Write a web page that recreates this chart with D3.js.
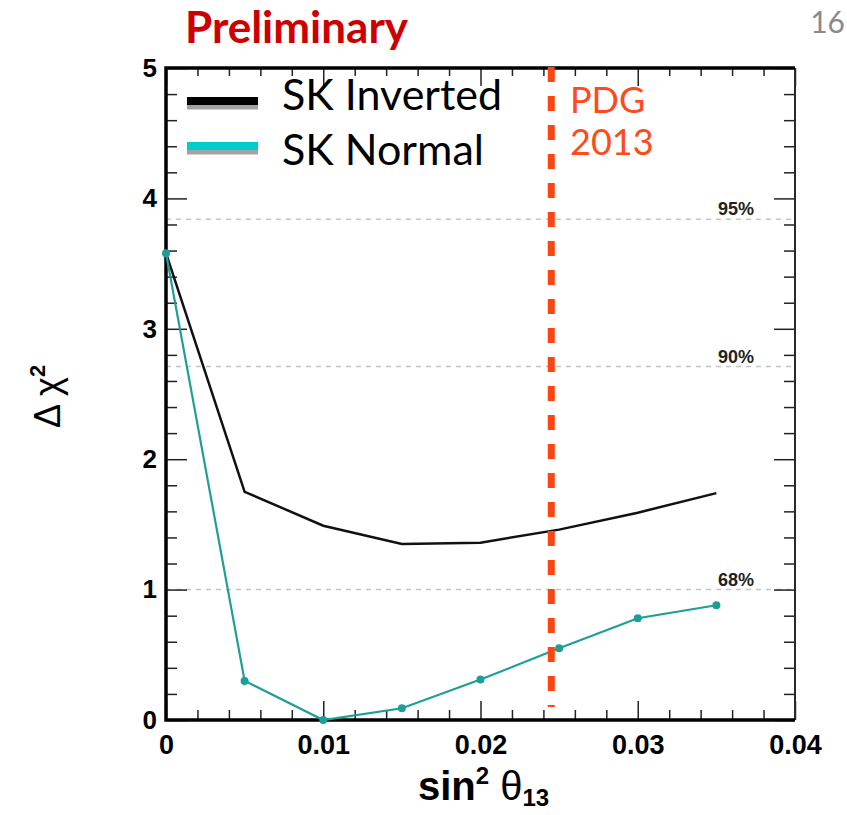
<!DOCTYPE html>
<html>
<head>
<meta charset="utf-8">
<script src="https://cdn.jsdelivr.net/npm/d3@7"></script>
<style>
  body { margin: 0; background: #fff; }
  svg { display: block; }
</style>
</head>
<body>
<div id="chart"></div>
<script>
// data
var sin2 = [0, 0.005, 0.01, 0.015, 0.02, 0.025, 0.03, 0.035];
var skInverted = [3.58, 1.75, 1.49, 1.35, 1.36, 1.46, 1.59, 1.74];
var skNormal = [3.58, 0.30, 0.0, 0.09, 0.31, 0.55, 0.78, 0.88];
var clLevels = [3.84, 2.71, 1.0];
var clLabels = ["95%", "90%", "68%"];
var pdg2013 = 0.0245;
var xTicks = [0, 0.01, 0.02, 0.03, 0.04];
var yTicks = [0, 1, 2, 3, 4, 5];

var W = 847, H = 815;
var frame = {left: 166, right: 795, top: 68, bottom: 720};

var svg = d3.select("#chart")
  .append("svg")
    .attr("width", W)
    .attr("height", H);

var x = d3.scaleLinear().domain([0, 0.04]).range([frame.left, frame.right]);
var y = d3.scaleLinear().domain([0, 5]).range([frame.bottom, frame.top]);

var tickFont = "'Liberation Sans', Arial, sans-serif";

// confidence level lines
svg.selectAll(".cl")
  .data(clLevels)
  .enter()
  .append("line")
    .attr("x1", frame.left).attr("x2", frame.right)
    .attr("y1", d => y(d)).attr("y2", d => y(d))
    .attr("stroke", "#c4c4c4")
    .attr("stroke-width", 1.5)
    .attr("stroke-dasharray", "5,5");

svg.selectAll(".cllab")
  .data(clLevels)
  .enter()
  .append("text")
    .attr("x", 754)
    .attr("y", d => y(d) - 4)
    .attr("text-anchor", "end")
    .style("font-family", tickFont)
    .style("font-weight", "bold")
    .style("font-size", "18px")
    .style("fill", "#222")
    .text((d, i) => clLabels[i]);

// minor tick values
var xMinor = d3.range(0, 0.0401, 0.002).filter(v => Math.abs(v * 100 - Math.round(v * 100)) > 1e-6);
var yMinor = d3.range(0, 5.001, 0.2).filter(v => Math.abs(v - Math.round(v)) > 1e-6);

function styleAxis(g) {
  g.select(".domain").remove();
  g.selectAll("line").attr("stroke", "#222").attr("stroke-width", 1.5);
}

// bottom axis
svg.append("g")
  .attr("transform", "translate(0," + frame.bottom + ")")
  .call(d3.axisBottom(x).tickValues(xTicks).tickSize(-19).tickPadding(15)
    .tickFormat(d => d === 0 ? "0" : d3.format(".2f")(d)))
  .call(styleAxis)
  .call(g => g.selectAll("text")
    .style("font-family", tickFont).style("font-weight", "bold")
    .style("font-size", "27px").style("fill", "#000"));
svg.append("g")
  .attr("transform", "translate(0," + frame.bottom + ")")
  .call(d3.axisBottom(x).tickValues(xMinor).tickSize(-10).tickFormat(""))
  .call(styleAxis);

// top axis
svg.append("g")
  .attr("transform", "translate(0," + frame.top + ")")
  .call(d3.axisTop(x).tickValues(xTicks).tickSize(-18).tickFormat(""))
  .call(styleAxis);
svg.append("g")
  .attr("transform", "translate(0," + frame.top + ")")
  .call(d3.axisTop(x).tickValues(xMinor).tickSize(-8).tickFormat(""))
  .call(styleAxis);

// left axis
svg.append("g")
  .attr("transform", "translate(" + frame.left + ",0)")
  .call(d3.axisLeft(y).tickValues(yTicks).tickSize(-21).tickPadding(9).tickFormat(d3.format("d")))
  .call(styleAxis)
  .call(g => g.selectAll("text")
    .style("font-family", tickFont).style("font-weight", "bold")
    .style("font-size", "26px").style("fill", "#000"));
svg.append("g")
  .attr("transform", "translate(" + frame.left + ",0)")
  .call(d3.axisLeft(y).tickValues(yMinor).tickSize(-11).tickFormat(""))
  .call(styleAxis);

// right axis
svg.append("g")
  .attr("transform", "translate(" + frame.right + ",0)")
  .call(d3.axisRight(y).tickValues(yTicks).tickSize(-21).tickFormat(""))
  .call(styleAxis);
svg.append("g")
  .attr("transform", "translate(" + frame.right + ",0)")
  .call(d3.axisRight(y).tickValues(yMinor).tickSize(-11).tickFormat(""))
  .call(styleAxis);

// frame
svg.append("line").attr("x1", frame.right).attr("x2", frame.right)
  .attr("y1", frame.top).attr("y2", frame.bottom)
  .attr("stroke", "#2a2a2a").attr("stroke-width", 2);
svg.append("path")
  .attr("d", "M" + frame.right + "," + frame.top + "H" + frame.left + "V" + frame.bottom + "H" + frame.right)
  .attr("fill", "none").attr("stroke", "#000").attr("stroke-width", 3.5);

// curves
var line = d3.line()
  .x((d, i) => x(sin2[i]))
  .y(d => y(d));

svg.append("path")
  .datum(skInverted)
  .attr("d", line)
  .attr("fill", "none")
  .attr("stroke", "#111")
  .attr("stroke-width", 2.5);

svg.append("path")
  .datum(skNormal)
  .attr("d", line)
  .attr("fill", "none")
  .attr("stroke", "#1e9e98")
  .attr("stroke-width", 2.2);

svg.selectAll(".pt")
  .data(skNormal)
  .enter()
  .append("circle")
    .attr("cx", (d, i) => x(sin2[i]))
    .attr("cy", d => y(d))
    .attr("r", 4)
    .attr("fill", "#1e9e98");

// PDG 2013 line
svg.append("line")
  .attr("x1", x(pdg2013)).attr("x2", x(pdg2013))
  .attr("y1", y(5) - 1).attr("y2", y(0.1))
  .attr("stroke", "#ff4411")
  .attr("stroke-width", 7)
  .attr("stroke-dasharray", "15,14");

svg.append("text")
  .attr("x", 570).attr("y", 113)
  .style("font-family", "Lato, sans-serif").style("font-size", "36px")
  .style("fill", "#ff4a1a")
  .text("PDG");
svg.append("text")
  .attr("x", 570).attr("y", 155)
  .style("font-family", "Lato, sans-serif").style("font-size", "36px")
  .style("fill", "#ff4a1a")
  .text("2013");

// legend
var legend = [
  {name: "SK Inverted", color: "#000", y: 97, ty: 110},
  {name: "SK Normal", color: "#00cccc", y: 142, ty: 165}
];
legend.forEach(function(l) {
  svg.append("rect").attr("x", 187).attr("y", l.y + 8).attr("width", 71).attr("height", 4.5)
    .attr("fill", "#a3a3a3");
  svg.append("rect").attr("x", 187).attr("y", l.y).attr("width", 71).attr("height", 8)
    .attr("fill", l.color);
  svg.append("text")
    .attr("x", 282).attr("y", l.ty)
    .style("font-family", "Lato, sans-serif").style("font-size", "43px")
    .style("fill", "#000")
    .text(l.name);
});

// axis titles
var xt = svg.append("text")
  .attr("x", 418).attr("y", 800)
  .style("font-family", tickFont).style("font-weight", "bold")
  .style("font-size", "40px").style("fill", "#000");
xt.append("tspan").text("sin");
xt.append("tspan").attr("dy", -16).style("font-size", "24px").text("2");
xt.append("tspan").attr("dy", 16).style("font-weight", "normal").text(" θ");
xt.append("tspan").attr("dy", 6).style("font-size", "24px").text("13");

var yt = svg.append("text")
  .attr("transform", "translate(60,428) rotate(-90)")
  .style("font-family", tickFont)
  .style("font-size", "36px").style("fill", "#000");
yt.append("tspan").text("Δ χ");
yt.append("tspan").attr("dy", -15).style("font-size", "22px").style("font-weight", "bold").text("2");

// header texts
svg.append("text")
  .attr("x", 185).attr("y", 43)
  .style("font-family", "Lato, sans-serif").style("font-weight", "bold")
  .style("font-size", "44px").style("fill", "#cc0000")
  .text("Preliminary");

svg.append("text")
  .attr("x", 845).attr("y", 33)
  .attr("text-anchor", "end")
  .style("font-family", "Lato, sans-serif")
  .style("font-size", "30px").style("fill", "#8a8a8a")
  .text("16");
</script>
</body>
</html>
